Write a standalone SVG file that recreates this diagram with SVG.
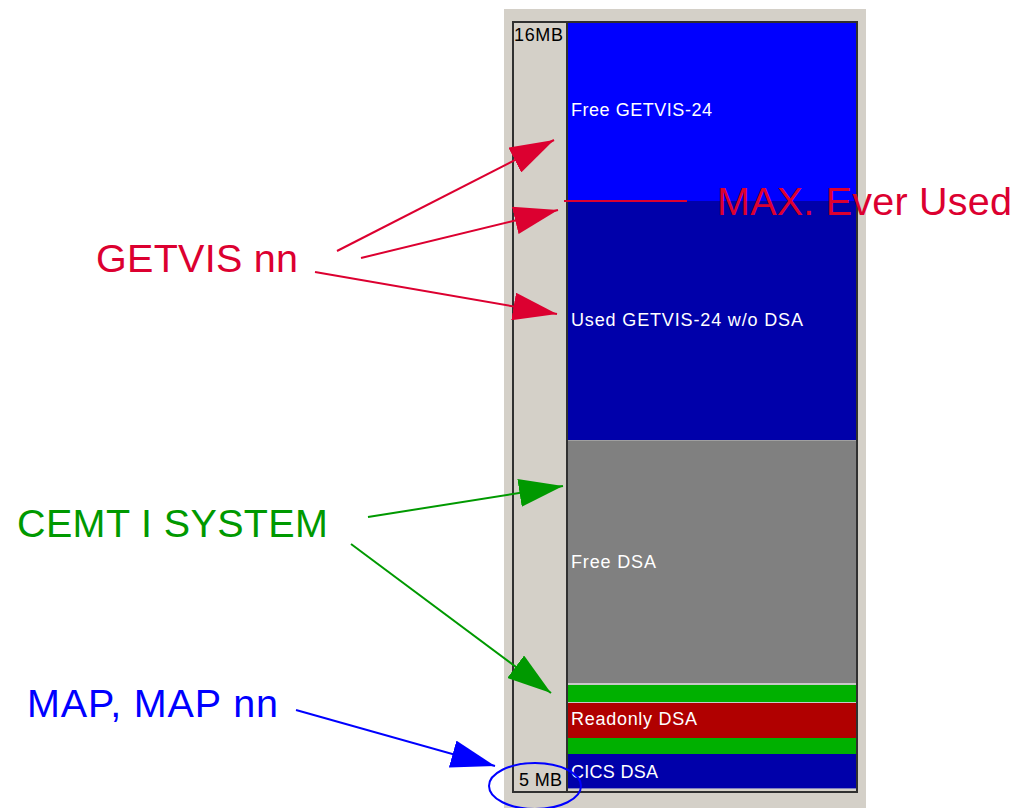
<svg xmlns="http://www.w3.org/2000/svg" width="1016" height="808" viewBox="0 0 1016 808">
<style>
.bar{font-family:"Liberation Sans",Arial,sans-serif;font-size:18px;fill:#ffffff}
.scale{font-family:"Liberation Sans",Arial,sans-serif;font-size:18px;fill:#000000}
.lbl{font-family:"Liberation Sans",Arial,sans-serif;font-size:39.5px}
.red{fill:#dc0030}.green{fill:#009900}.blue{fill:#0000ff}
.cr{stroke:#dc0030;stroke-width:2;fill:none}
.cg{stroke:#009900;stroke-width:2;fill:none}
.cb{stroke:#0000ff;stroke-width:2;fill:none}
</style>
<defs>
<marker id="ar" markerUnits="userSpaceOnUse" viewBox="0 0 44 28" refX="44" refY="14" markerWidth="44" markerHeight="28" orient="auto"><path d="M0,0 L44,14 L0,28 Z" fill="#dc0030"/></marker>
<marker id="ag" markerUnits="userSpaceOnUse" viewBox="0 0 44 28" refX="44" refY="14" markerWidth="44" markerHeight="28" orient="auto"><path d="M0,0 L44,14 L0,28 Z" fill="#009900"/></marker>
<marker id="ab" markerUnits="userSpaceOnUse" viewBox="0 0 44 28" refX="44" refY="14" markerWidth="44" markerHeight="28" orient="auto"><path d="M0,0 L44,14 L0,28 Z" fill="#0000ff"/></marker>
</defs>
<rect width="1016" height="808" fill="#ffffff"/>
<g id="panel">
<rect x="504" y="9" width="362" height="799" fill="#d4d0c8"/>
<rect x="513" y="22" width="344" height="770" fill="#d4d0c8" stroke="#303030" stroke-width="2"/>
<line x1="567" y1="22" x2="567" y2="792" stroke="#303030" stroke-width="2"/>
</g>
<g id="free-getvis">
<rect x="568" y="23" width="288" height="178" fill="#0000ff"/>
<text class="bar" x="571" y="116" textLength="141">Free GETVIS-24</text>
</g>
<g id="used-getvis">
<rect x="568" y="201" width="288" height="239" fill="#0000aa"/>
<text class="bar" x="571" y="326" textLength="232">Used GETVIS-24 w/o DSA</text>
</g>
<g id="free-dsa">
<rect x="568" y="440" width="288" height="244" fill="#808080"/>
<line x1="568" y1="440.5" x2="856" y2="440.5" stroke="#a0a0a0" stroke-width="1"/>
<text class="bar" x="571" y="568" textLength="85">Free DSA</text>
</g>
<g id="green-1">
<line x1="568" y1="684" x2="856" y2="684" stroke="#c8c8c8" stroke-width="2"/>
<rect x="568" y="685" width="288" height="17" fill="#00b000"/>
</g>
<g id="readonly-dsa">
<line x1="568" y1="702.5" x2="856" y2="702.5" stroke="#c8c8c8" stroke-width="1"/>
<rect x="568" y="703" width="288" height="35" fill="#b00000"/>
<text class="bar" x="571" y="725" textLength="126">Readonly DSA</text>
</g>
<g id="green-2">
<rect x="568" y="738" width="288" height="16" fill="#00b000"/>
</g>
<g id="cics-dsa">
<rect x="568" y="754" width="288" height="34" fill="#0000aa"/>
<line x1="568" y1="788.5" x2="856" y2="788.5" stroke="#8080c0" stroke-width="1"/>
<text class="bar" x="571" y="778" textLength="87">CICS DSA</text>
</g>
<g id="scale">
<text class="scale" x="514" y="41" textLength="49">16MB</text>
<text class="scale" x="519" y="786" textLength="43">5 MB</text>
</g>
<g id="max-line">
<line x1="564" y1="201" x2="687" y2="201" stroke="#dc0030" stroke-width="2"/>
</g>
<g id="labels">
<text class="lbl red" x="96" y="272" textLength="202">GETVIS nn</text>
<text class="lbl red" x="717" y="215" textLength="295">MAX. Ever Used</text>
<text class="lbl green" x="17" y="537" textLength="311">CEMT I SYSTEM</text>
<text class="lbl blue" x="27" y="717" textLength="251">MAP, MAP nn</text>
</g>
<g id="connectors">
<line class="cr" x1="337" y1="251" x2="554" y2="140" marker-end="url(#ar)"/>
<line class="cr" x1="361" y1="258" x2="558" y2="210" marker-end="url(#ar)"/>
<line class="cr" x1="315" y1="272" x2="557" y2="314" marker-end="url(#ar)"/>
<line class="cg" x1="368" y1="517" x2="563" y2="486" marker-end="url(#ag)"/>
<line class="cg" x1="351" y1="544" x2="551" y2="693" marker-end="url(#ag)"/>
<line class="cb" x1="296" y1="710" x2="495" y2="766" marker-end="url(#ab)"/>
<ellipse class="cb" cx="535" cy="786" rx="46" ry="23"/>
</g>
</svg>
